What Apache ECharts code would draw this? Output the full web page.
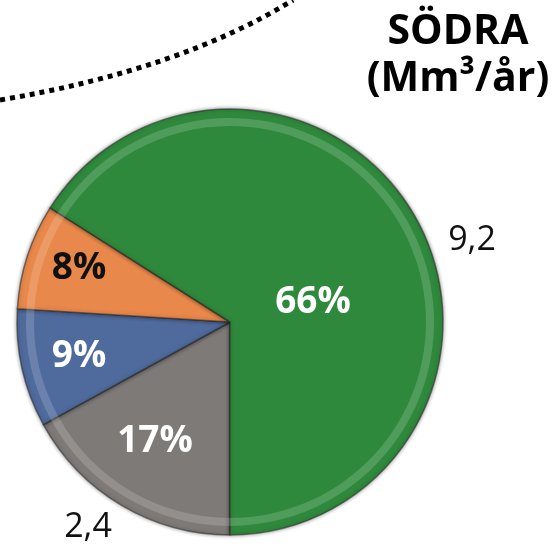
<!DOCTYPE html>
<html>
<head>
<meta charset="utf-8">
<script src="https://cdn.jsdelivr.net/npm/echarts@6/dist/echarts.min.js"></script>
<style>
  html, body { margin: 0; padding: 0; background: #fff; }
  #main { width: 558px; height: 556px; }
</style>
</head>
<body>
<div id="main"></div>
<script>
// slice order: clockwise from 6 o'clock
var names = ['Grå', 'Blå', 'Orange', 'Grön'];
var shares = [17, 9, 8, 66];
var volumes = ['2,4', '', '', '9,2'];
var colors = ['#7e7a78', '#4f6b9d', '#e9884b', '#2f893c'];
var labelColors = ['#ffffff', '#ffffff', '#111111', '#ffffff'];

var chartDom = document.getElementById('main');
var myChart = echarts.init(chartDom);

var pctPos = [[155, 441], [79, 356], [79, 268], [313, 302]];
var volPos = [[88, 527], null, null, [472, 240]];

var option = {
    animation: false,
    graphic: [
        {
            type: 'bezierCurve',
            shape: { x1: 0, y1: 100, x2: 293, y2: 0, cpx1: 180, cpy1: 70 },
            style: { stroke: '#000', lineWidth: 5, lineDash: [5, 5], fill: null }
        },
        {
            type: 'text',
            x: 458, y: 9,
            style: {
                text: 'SÖDRA\n(Mm³/år)', fill: '#000', textAlign: 'center',
                font: 'bold 41px "Open Sans"', lineHeight: 47
            }
        }
    ],
    series: [
        {
            type: 'pie',
            center: [230, 322],
            radius: 213,
            startAngle: 270,
            clockwise: true,
            silent: true,
            data: names.map(function (n, i) {
                return { name: n, value: shares[i], itemStyle: { color: colors[i] },
                    label: { color: labelColors[i] } };
            }),
            itemStyle: {
                borderColor: 'rgba(40,40,40,0.55)',
                borderWidth: 1.5,
                shadowBlur: 4,
                shadowColor: 'rgba(0,0,0,0.45)'
            },
            label: {
                show: true,
                position: 'inside',
                formatter: function (p) { return shares[p.dataIndex] + '%'; },
                fontFamily: 'Open Sans',
                fontWeight: 'bold',
                fontSize: 37
            },
            labelLayout: function (p) {
                var q = pctPos[p.dataIndex];
                return { x: q[0], y: q[1], align: 'center', verticalAlign: 'middle' };
            },
            labelLine: { show: false }
        },
        {
            type: 'pie',
            center: [230, 322],
            radius: [196, 204],
            startAngle: 270,
            clockwise: true,
            silent: true,
            data: names.map(function (n, i) {
                return { name: n, value: shares[i] };
            }),
            itemStyle: { color: 'rgba(255,255,255,0.16)', borderWidth: 0 },
            label: {
                show: true,
                position: 'outside',
                formatter: function (p) { return volumes[p.dataIndex]; },
                fontFamily: 'Open Sans',
                fontSize: 34,
                color: '#111'
            },
            labelLayout: function (p) {
                var q = volPos[p.dataIndex];
                if (!q) return { x: -100, y: -100 };
                return { x: q[0], y: q[1], align: 'center', verticalAlign: 'middle' };
            },
            labelLine: { show: false }
        }
    ]
};

option && myChart.setOption(option);
</script>
</body>
</html>
